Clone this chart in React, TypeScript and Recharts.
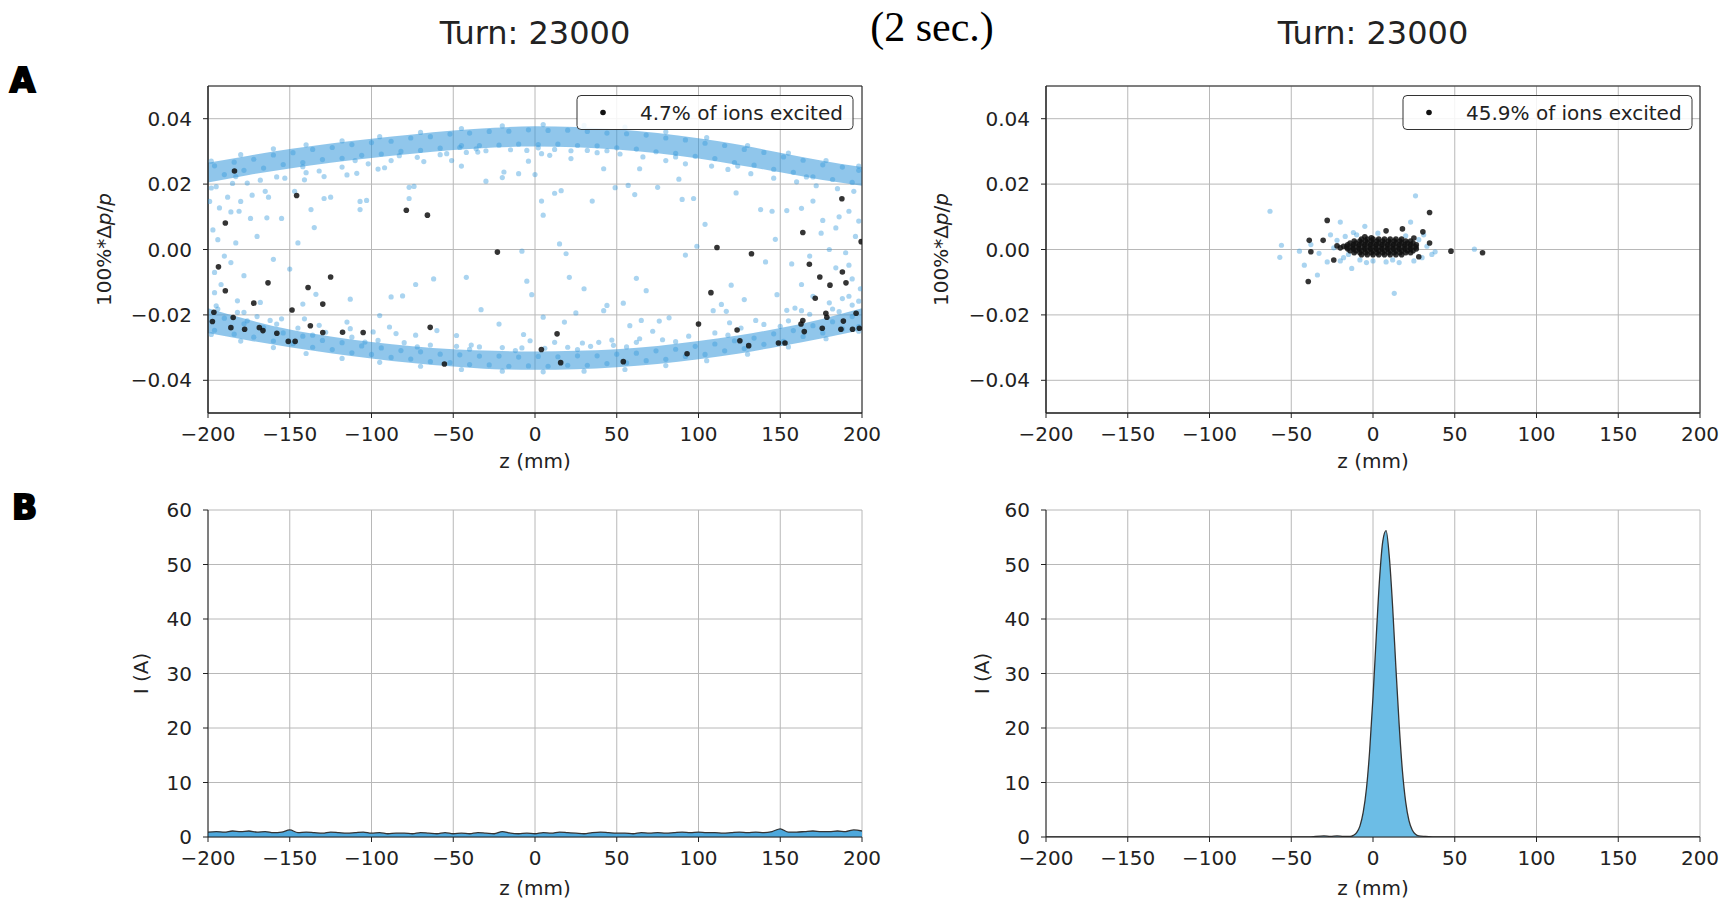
import React from 'react';
import {
  ComposedChart,
  Scatter,
  Area,
  XAxis,
  YAxis,
  CartesianGrid,
  ReferenceArea,
} from 'recharts';

// axis ticks
const zTicks = [-200, -150, -100, -50, 0, 50, 100, 150, 200];
const dpTicks = [-0.04, -0.02, 0, 0.02, 0.04];
const currentTicks = [0, 10, 20, 30, 40, 50, 60];

const titles = ['Turn: 23000', 'Turn: 23000'];
const legendLabels = ['4.7% of ions excited', '45.9% of ions excited'];

// dense core of the bucket (upper / lower bands), sampled along z
const bandZ = [-200, -175, -150, -125, -100, -75, -50, -25, 0, 25, 50, 75, 100, 125, 150, 175, 200];
const upperLo = [0.0205, 0.0228, 0.0248, 0.0265, 0.028, 0.0293, 0.0304, 0.0312, 0.0315, 0.0313, 0.0306, 0.0294, 0.0278, 0.0258, 0.0236, 0.0213, 0.0195];
const upperHi = [0.0265, 0.0287, 0.0307, 0.0324, 0.0339, 0.0352, 0.0364, 0.0372, 0.0377, 0.0375, 0.0368, 0.0356, 0.034, 0.032, 0.0296, 0.0272, 0.0252];
const lowerLo = [-0.0255, -0.0278, -0.0299, -0.0317, -0.0333, -0.0347, -0.0358, -0.0366, -0.0368, -0.0366, -0.036, -0.035, -0.0336, -0.0318, -0.0296, -0.0272, -0.0246];
const lowerHi = [-0.018, -0.0215, -0.0245, -0.0266, -0.0283, -0.0296, -0.0305, -0.031, -0.0312, -0.031, -0.0305, -0.0295, -0.028, -0.0262, -0.024, -0.0213, -0.018];

// ions inside the bands (adds the speckle on top of the core)
const bandIons: [number, number][] = [
  [-196, 0.0256], [-184, 0.0267], [-172, 0.0276], [-160, 0.0289], [-148, 0.0296], [-136, 0.0306], [-124, 0.0312],
  [-112, 0.0321], [-100, 0.0327], [-88, 0.0331], [-76, 0.0341], [-64, 0.0345], [-52, 0.0353], [-40, 0.0356],
  [-28, 0.0361], [-16, 0.0362], [-4, 0.0366], [8, 0.0364], [20, 0.0365], [32, 0.0361], [44, 0.0356], [56, 0.0354],
  [68, 0.035], [80, 0.0341], [92, 0.0335], [104, 0.0325], [116, 0.0318], [128, 0.0306], [140, 0.0297], [152, 0.0283],
  [164, 0.0273], [176, 0.0259], [188, 0.0252], [198, 0.0242],
  [-190, 0.0229], [-178, 0.0242], [-166, 0.0249], [-154, 0.026], [-142, 0.0266], [-130, 0.0275], [-118, 0.0279],
  [-106, 0.0288], [-94, 0.0292], [-82, 0.03], [-70, 0.0303], [-58, 0.031], [-46, 0.0312], [-34, 0.0318], [-22, 0.0319],
  [-10, 0.0322], [2, 0.0321], [14, 0.0322], [26, 0.0318], [38, 0.0317], [50, 0.0311], [62, 0.0307], [74, 0.0299],
  [86, 0.0294], [98, 0.0285], [110, 0.0278], [122, 0.0266], [134, 0.0258], [146, 0.0245], [158, 0.0236], [170, 0.0222],
  [182, 0.0214], [194, 0.0205],
  [-196, -0.0247], [-184, -0.0259], [-172, -0.0268], [-160, -0.028], [-148, -0.0288], [-136, -0.0299], [-124, -0.0306],
  [-112, -0.0316], [-100, -0.0321], [-88, -0.033], [-76, -0.0335], [-64, -0.0343], [-52, -0.0346], [-40, -0.0352],
  [-28, -0.0353], [-16, -0.0357], [-4, -0.0356], [8, -0.0357], [20, -0.0354], [32, -0.0354], [44, -0.0349],
  [56, -0.0347], [68, -0.034], [80, -0.0336], [92, -0.0327], [104, -0.0321], [116, -0.031], [128, -0.0303],
  [140, -0.029], [152, -0.0281], [164, -0.0266], [176, -0.0255], [188, -0.0243], [198, -0.0236],
  [-190, -0.021], [-178, -0.0227], [-166, -0.0239], [-154, -0.0255], [-142, -0.0265], [-130, -0.0278], [-118, -0.0285],
  [-106, -0.0295], [-94, -0.0301], [-82, -0.0309], [-70, -0.0313], [-58, -0.032], [-46, -0.0322], [-34, -0.0326],
  [-22, -0.0326], [-10, -0.0329], [2, -0.0327], [14, -0.0328], [26, -0.0325], [38, -0.0325], [50, -0.032],
  [62, -0.0317], [74, -0.031], [86, -0.0305], [98, -0.0296], [110, -0.0289], [122, -0.0279], [134, -0.0271],
  [146, -0.0258], [158, -0.0248], [170, -0.0233], [182, -0.0221], [194, -0.0205],
];

// ions outside the dense core, left panel [z mm, 100%*dp/p]
const leftIons: [number, number][] = [
  [-198, 0.0188], [-199, 0.0147], [-188, 0.016], [-193, 0.0127], [-180, 0.0147], [-176, 0.0203], [-173, 0.0166],
  [-165, 0.0178], [-163, 0.016], [-186, 0.0115], [-181, 0.0117], [-174, 0.0095], [-164, 0.0097], [-155, 0.0095],
  [-147, 0.0178], [-137, 0.0122], [-135, 0.0067], [-129, 0.0156], [-125, 0.016], [-107, 0.0147], [-107, 0.0122],
  [-115, 0.0228], [-109, 0.0233], [-96, 0.0246], [-92, 0.025], [-77, 0.019], [-77, 0.0156], [-68, 0.0269],
  [-141, 0.0213], [-153, 0.0218], [-129, 0.0223],
  [-196, -0.0132], [-192, -0.0107], [-182, -0.0157], [-168, -0.0162], [-142, -0.0167], [-134, -0.0137], [-113, -0.0152],
  [-81, -0.0142], [-73, -0.0107], [-95, -0.0202], [-89, -0.0237], [-85, -0.0257], [-73, -0.0262], [-194, -0.0182],
  [-178, -0.0192], [-162, -0.0217], [-155, -0.0212], [-141, -0.0212], [-132, -0.0232], [-115, -0.0222], [-113, -0.0242],
  [-99, -0.0252],
  [-54, 0.0293], [-51, 0.0272], [-45, 0.0318], [-35, 0.0298], [-19, 0.0237], [-10, 0.0232], [0, 0.0229], [-30, 0.0209],
  [-4, 0.027], [4, 0.0293], [9, 0.0288], [12, 0.0172], [16, 0.018], [4, 0.0148], [35, 0.0148], [42, 0.0247], [22, 0.0278],
  [32, 0.0303], [49, 0.0189], [57, 0.0196], [61, 0.0168], [64, 0.0247], [15, 0.0017], [19, -0.0013], [-8, -0.0005],
  [-42, -0.0085], [-5, -0.0097], [-2, -0.0138], [21, -0.0085], [-33, -0.0184], [-22, -0.0228], [5, -0.0207], [18, -0.0222],
  [25, -0.0194], [42, -0.0187], [44, -0.0171], [54, -0.0164], [68, -0.0126], [58, -0.0233], [-48, -0.0263], [-39, -0.0292],
  [-7, -0.026], [-3, -0.0279], [12, -0.0284], [29, -0.0286], [39, -0.0284], [47, -0.0277], [65, -0.0217], [64, -0.0273],
  [-60, -0.0248],
  [90, 0.0153], [97, 0.0156], [123, 0.0173], [138, 0.0122], [145, 0.0117], [154, 0.0119], [163, 0.0126], [170, 0.0148],
  [176, 0.0089], [184, 0.0066], [192, 0.0117], [198, 0.0087], [104, 0.0077], [99, 0.001], [92, -0.0017], [147, 0.0031],
  [157, -0.0044], [163, -0.0107], [170, -0.0143], [184, -0.0056], [192, -0.0048], [141, -0.0038], [120, -0.0109],
  [114, -0.0168], [109, -0.0187], [117, -0.0189], [128, -0.0153], [148, -0.0138], [154, -0.0186], [76, -0.0219],
  [82, -0.0209], [72, -0.025], [119, -0.0224], [135, -0.0217], [163, -0.0187], [180, -0.0163], [192, -0.0143],
  [198, -0.0158], [159, -0.0179],
  [-103, 0.015], [-74, 0.0193], [-20, 0.022], [-45, 0.0255], [5, 0.0105], [-62, -0.009], [-88, -0.0145], [62, -0.0088],
  [75, 0.019], [88, 0.0215], [30, -0.012],
  [-197, 0.006], [-194, 0.003], [-190, -0.002], [-196, -0.007], [-186, -0.004], [-183, 0.002], [-178, -0.008],
  [-170, 0.004], [-160, -0.003], [-150, -0.006], [-145, 0.002],
  [196, 0.004], [190, -0.001], [186, 0.01], [194, -0.009], [180, 0.0], [175, 0.005], [168, -0.002], [199, -0.012], [188, -0.015],
  // fringe of the upper band
  [-195, 0.0192], [-185, 0.0202], [-168, 0.0212], [-158, 0.0222], [-140, 0.0235], [-132, 0.024], [-118, 0.0252],
  [-102, 0.0262], [-88, 0.0272], [-72, 0.0282], [-58, 0.029], [-42, 0.0297], [-30, 0.0302], [-15, 0.0305], [-5, 0.0303],
  [12, 0.0306], [22, 0.0302], [38, 0.0296], [52, 0.0292], [66, 0.0283], [80, 0.0272], [92, 0.0262], [108, 0.0255],
  [118, 0.0245], [132, 0.0232], [146, 0.0218], [160, 0.0207], [172, 0.0195], [185, 0.0186], [195, 0.0178],
  [-183, 0.0223], [-142, 0.0253], [-110, 0.0272], [-83, 0.0287], [-36, 0.0308], [2, 0.0311], [44, 0.0302], [86, 0.0283],
  [124, 0.0255], [166, 0.0222], [-198, 0.027], [-180, 0.029], [-160, 0.0308], [-140, 0.032], [-118, 0.0332],
  [-95, 0.0345], [-70, 0.0358], [-45, 0.037], [-20, 0.0378], [5, 0.0382], [30, 0.038], [55, 0.0374], [80, 0.036],
  [105, 0.0342], [130, 0.0318], [155, 0.0295], [178, 0.0272], [198, 0.0255],
  // fringe of the lower band
  [-195, -0.0172], [-182, -0.0192], [-170, -0.0205], [-158, -0.0228], [-145, -0.024], [-128, -0.0253], [-112, -0.0268],
  [-96, -0.0278], [-80, -0.0285], [-64, -0.0292], [-48, -0.0296], [-34, -0.0298], [-20, -0.03], [-8, -0.0301], [6, -0.0302],
  [20, -0.0299], [34, -0.0296], [48, -0.0293], [62, -0.0284], [78, -0.0276], [94, -0.0265], [110, -0.0255], [126, -0.024],
  [140, -0.0229], [155, -0.0218], [168, -0.0198], [182, -0.0182], [194, -0.017],
  [-176, -0.0218], [-136, -0.0262], [-104, -0.0283], [-72, -0.0298], [-40, -0.0305], [-12, -0.0309], [26, -0.0306],
  [56, -0.0298], [86, -0.0282], [118, -0.0262], [150, -0.0235], [186, -0.019],
  [-198, -0.026], [-180, -0.028], [-160, -0.03], [-140, -0.0318], [-118, -0.0333], [-95, -0.0345], [-70, -0.0357],
  [-45, -0.0367], [-20, -0.0372], [5, -0.0374], [30, -0.0372], [55, -0.0367], [80, -0.0355], [105, -0.034], [130, -0.032],
  [155, -0.0298], [178, -0.0273], [198, -0.025],
];

// excited ions, left panel
const leftExcited: [number, number][] = [
  [-183.8, 0.024], [-145.8, 0.0165], [-189.4, 0.0081], [-78.7, 0.012], [-65.8, 0.0105], [-23, -0.0008], [-193.6, -0.0053],
  [-189.4, -0.0126], [-163.3, -0.0102], [-138.8, -0.0116], [-125, -0.0084], [-129.8, -0.0167], [-172, -0.0164],
  [-148.6, -0.0185], [-196.4, -0.0192], [-197.3, -0.022], [-184.6, -0.0208], [-186, -0.0239], [-177.6, -0.0244],
  [-168.6, -0.0239], [-166.4, -0.0248], [-157.9, -0.0256], [-150.9, -0.0281], [-146.7, -0.0281], [-137.4, -0.0233],
  [-129.8, -0.0254], [-117.7, -0.0253], [-105.1, -0.0254], [-64.1, -0.0238], [-55.4, -0.035], [13.5, -0.0258],
  [3.9, -0.0306], [15.7, -0.0346], [54, -0.0343], [93, -0.0319], [100, -0.0228], [107.6, -0.0132], [111.3, 0.0006],
  [132.4, -0.0013], [123.6, -0.0246], [125.3, -0.0279], [130.7, -0.0294], [148.9, -0.0286], [152.9, -0.0286],
  [163.8, 0.0052], [167.8, -0.0045], [174.2, -0.0084], [171.4, -0.0149], [180.4, -0.0109], [187.7, 0.0155],
  [188, -0.0069], [190.2, -0.0102], [199.5, 0.0024], [162.7, -0.0228], [163.8, -0.0217], [164.7, -0.0251],
  [175.7, -0.0241], [177.9, -0.0195], [178.5, -0.0207], [187.1, -0.0244], [188.6, -0.0219], [194.2, -0.0244],
  [196.4, -0.0195], [198.4, -0.0241],
];

// right panel, ions not excited
const rightIons: [number, number][] = [
  [-63, 0.0117], [26, 0.0164], [13, -0.0134], [-56, 0.0013], [-57, -0.0024], [-42, -0.0048], [-34, -0.0078], [-13, -0.0058],
  [-20, 0.0084], [23, 0.0084], [-5, 0.0071], [62, 0.0001], [38, -0.0007], [-26, 0.0045], [-33, -0.0012], [-28, -0.0038],
  [-20, -0.0035], [-17, 0.004], [-10, 0.0045], [-8, -0.0032], [0, -0.0035], [12, -0.0032], [20, 0.0042], [28, 0.003],
  [30, -0.0025], [33, 0.001], [36, -0.0015], [-38, 0.0015], [-45, -0.0005], [3, 0.005], [16, -0.004], [-24, 0.0005],
  [-15, -0.0015], [25, -0.0035], [-4, -0.004], [-22, 0.0028], [-12, 0.0052], [31, 0.0045], [-18, -0.0025], [8, -0.0038],
];

// right panel, excited ions: scattered ones, then the dense core
const rightExcited: [number, number][] = [
  [-28, 0.0089], [-39, 0.0028], [-30.5, 0.0028], [-38, -0.0007], [-22, 0.0011], [-24, -0.0032], [-39.6, -0.0098],
  [34.6, 0.0113], [30.5, 0.0054], [18, 0.0063], [8, 0.0057], [34.6, 0.002], [47.7, -0.0005], [67, -0.001], [-5, 0.0039],
  [-1, 0.0036], [25, 0.0035], [-18, 0.001], [-20, 0.0005], [28, -0.0022],
  [-7, 0.0032], [-3.5, 0.0032], [0, 0.0032], [3.5, 0.0032], [7, 0.0032], [10.5, 0.0032], [14, 0.0032], [17.5, 0.0032],
  [-11.5, 0.0026], [-8, 0.0026], [-4.5, 0.0026], [-1, 0.0026], [2.5, 0.0026], [6, 0.0026], [9.5, 0.0026], [13, 0.0026],
  [16.5, 0.0026], [20, 0.0026], [23, 0.0026],
  [-14, 0.002], [-10.5, 0.002], [-7, 0.002], [-3.5, 0.002], [0, 0.002], [3.5, 0.002], [7, 0.002], [10.5, 0.002],
  [14, 0.002], [17.5, 0.002], [21, 0.002], [24.5, 0.002],
  [-15.5, 0.0014], [-12, 0.0014], [-8.5, 0.0014], [-5, 0.0014], [-1.5, 0.0014], [2, 0.0014], [5.5, 0.0014], [9, 0.0014],
  [12.5, 0.0014], [16, 0.0014], [19.5, 0.0014], [23, 0.0014], [26.5, 0.0014],
  [-16, 0.0008], [-12.5, 0.0008], [-9, 0.0008], [-5.5, 0.0008], [-2, 0.0008], [1.5, 0.0008], [5, 0.0008], [8.5, 0.0008],
  [12, 0.0008], [15.5, 0.0008], [19, 0.0008], [22.5, 0.0008], [26, 0.0008],
  [-15.5, 0.0002], [-12, 0.0002], [-8.5, 0.0002], [-5, 0.0002], [-1.5, 0.0002], [2, 0.0002], [5.5, 0.0002], [9, 0.0002],
  [12.5, 0.0002], [16, 0.0002], [19.5, 0.0002], [23, 0.0002], [26.5, 0.0002],
  [-14, -0.0004], [-10.5, -0.0004], [-7, -0.0004], [-3.5, -0.0004], [0, -0.0004], [3.5, -0.0004], [7, -0.0004],
  [10.5, -0.0004], [14, -0.0004], [17.5, -0.0004], [21, -0.0004], [24.5, -0.0004],
  [-11.5, -0.001], [-8, -0.001], [-4.5, -0.001], [-1, -0.001], [2.5, -0.001], [6, -0.001], [9.5, -0.001], [13, -0.001],
  [16.5, -0.001], [20, -0.001], [23, -0.001],
  [-7, -0.0016], [-3.5, -0.0016], [0, -0.0016], [3.5, -0.0016], [7, -0.0016], [10.5, -0.0016], [14, -0.0016], [17.5, -0.0016],
];

// line current profiles [z mm, I A]
const currentLeft: [number, number][] = [
  [-200, 0.9], [-195, 1.0], [-190, 0.9], [-185, 1.1], [-180, 1.0], [-175, 1.1], [-170, 0.9], [-165, 1.0], [-160, 0.8],
  [-155, 0.9], [-150, 1.3], [-145, 0.8], [-140, 0.9], [-135, 0.8], [-130, 0.7], [-125, 0.9], [-120, 0.8], [-115, 0.7],
  [-110, 0.8], [-105, 0.9], [-100, 0.7], [-95, 0.8], [-90, 0.6], [-85, 0.7], [-80, 0.7], [-75, 0.6], [-70, 0.8],
  [-65, 0.7], [-60, 0.6], [-55, 0.8], [-50, 0.6], [-45, 0.7], [-40, 0.6], [-35, 0.8], [-30, 0.7], [-25, 0.6], [-20, 1.0],
  [-15, 0.7], [-10, 0.6], [-5, 0.7], [0, 0.6], [5, 0.8], [10, 0.7], [15, 0.9], [20, 0.8], [25, 0.7], [30, 0.6], [35, 0.8],
  [40, 0.9], [45, 0.8], [50, 0.7], [55, 0.7], [60, 0.6], [65, 0.8], [70, 0.7], [75, 0.8], [80, 0.7], [85, 0.8], [90, 0.9],
  [95, 0.8], [100, 0.9], [105, 0.8], [110, 0.8], [115, 0.7], [120, 0.8], [125, 0.9], [130, 0.8], [135, 0.9], [140, 0.8],
  [145, 1.0], [150, 1.5], [155, 0.9], [160, 0.9], [165, 1.0], [170, 1.1], [175, 1.0], [180, 1.0], [185, 1.1], [190, 1.0],
  [195, 1.3], [200, 1.1],
];

const currentRight: [number, number][] = [
  [-200, 0], [-100, 0], [-40, 0], [-30, 0.2], [-26, 0.1], [-22, 0.2], [-18, 0.1], [-14, 0.1], [-12, 0.3], [-10, 0.8],
  [-8, 2.0], [-6, 4.5], [-4, 8.9], [-2, 16.0], [0, 25.7], [2, 36.8], [4, 47.3], [6, 54.3], [8, 56.2], [10, 51.3],
  [12, 42.3], [14, 31.1], [16, 20.6], [18, 12.1], [20, 6.4], [22, 3.0], [24, 1.3], [26, 0.5], [28, 0.2], [32, 0.1],
  [40, 0], [100, 0], [200, 0],
];

const FONT = 'DejaVu Sans, Verdana, sans-serif';
const PLOT_W = 654;
const PLOT_H = 327;
const Y_W = 90;
const TOP = 20;
const RIGHT = 30;
const X_H = 45;
const CHART_W = Y_W + PLOT_W + RIGHT;
const CHART_H = TOP + PLOT_H + X_H;

const tickStyle = { fontFamily: FONT, fontSize: 20, fill: '#222' };

const minus = (v: number) => (v < 0 ? '\u2212' : '');
const fmtZ = (v: number) => `${minus(v)}${Math.abs(v)}`;
const fmtDp = (v: number) => `${minus(v)}${Math.abs(v).toFixed(2)}`;

const toPoints = (rows: [number, number][]) => rows.map(([z, v]) => ({ z, v }));

const blueDot = (p: any) => (
  <circle cx={p.cx} cy={p.cy} r={2.6} fill="#3498db" fillOpacity={0.42} />
);
const blackDot = (p: any) => (
  <circle cx={p.cx} cy={p.cy} r={2.8} fill="#111" fillOpacity={0.85} />
);

const bandTable = bandZ.map((z, i) => ({
  z,
  up: [upperLo[i], upperHi[i]],
  low: [lowerLo[i], lowerHi[i]],
}));

function PhaseSpace({ ions, excited, band }: { ions: [number, number][]; excited: [number, number][]; band: boolean }) {
  return (
    <ComposedChart
      width={CHART_W}
      height={CHART_H}
      data={band ? bandTable : []}
      margin={{ top: TOP, right: RIGHT, bottom: 0, left: 0 }}
    >
      <CartesianGrid stroke="#b8b8b8" strokeWidth={1} />
      <XAxis
        dataKey="z"
        type="number"
        domain={[-200, 200]}
        ticks={zTicks}
        allowDataOverflow
        height={X_H}
        tickSize={5}
        tickMargin={9}
        tickFormatter={fmtZ}
        tick={tickStyle}
        stroke="#222"
        interval={0}
      />
      <YAxis
        type="number"
        domain={[-0.05, 0.05]}
        ticks={dpTicks}
        allowDataOverflow
        width={Y_W}
        tickSize={5}
        tickMargin={11}
        tickFormatter={fmtDp}
        tick={tickStyle}
        stroke="#222"
        interval={0}
      />
      {band && (
        <Area dataKey="up" type="monotone" stroke="none" fill="#3498db" fillOpacity={0.55} isAnimationActive={false} />
      )}
      {band && (
        <Area dataKey="low" type="monotone" stroke="none" fill="#3498db" fillOpacity={0.55} isAnimationActive={false} />
      )}
      {band && <Scatter data={toPoints(bandIons)} dataKey="v" shape={blueDot} isAnimationActive={false} />}
      <Scatter data={toPoints(ions)} dataKey="v" shape={blueDot} isAnimationActive={false} />
      <Scatter data={toPoints(excited)} dataKey="v" shape={blackDot} isAnimationActive={false} />
      <ReferenceArea x1={-200} x2={200} y1={-0.05} y2={0.05} fill="none" stroke="#222" strokeWidth={1} ifOverflow="visible" />
    </ComposedChart>
  );
}

function CurrentProfile({ rows, fill }: { rows: [number, number][]; fill: string }) {
  return (
    <ComposedChart
      width={CHART_W}
      height={CHART_H}
      data={rows.map(([z, i]) => ({ z, i }))}
      margin={{ top: TOP, right: RIGHT, bottom: 0, left: 0 }}
    >
      <CartesianGrid stroke="#b8b8b8" strokeWidth={1} />
      <XAxis
        dataKey="z"
        type="number"
        domain={[-200, 200]}
        ticks={zTicks}
        allowDataOverflow
        height={X_H}
        tickSize={5}
        tickMargin={9}
        tickFormatter={fmtZ}
        tick={tickStyle}
        stroke="#222"
        interval={0}
      />
      <YAxis
        type="number"
        domain={[0, 60]}
        ticks={currentTicks}
        allowDataOverflow
        width={Y_W}
        tickSize={5}
        tickMargin={11}
        tick={tickStyle}
        stroke="#222"
        interval={0}
      />
      <Area
        dataKey="i"
        type="monotone"
        stroke="#333"
        strokeWidth={1.3}
        fill={fill}
        fillOpacity={1}
        dot={false}
        isAnimationActive={false}
      />
    </ComposedChart>
  );
}

// plot-area origins on the page
const colX = [208, 1046];
const rowY = [86, 510];

function LegendBox({ x, width, label }: { x: number; width: number; label: string }) {
  return (
    <g>
      <rect x={x} y={95.5} width={width} height={34} rx={4} fill="#fff" fillOpacity={0.85} stroke="#333" strokeWidth={1} />
      <circle cx={x + 26} cy={112.5} r={2.8} fill="#111" />
      <text x={x + 63} y={119.5} fontFamily={FONT} fontSize={20} fill="#222">{label}</text>
    </g>
  );
}

function DpLabel({ x }: { x: number }) {
  const cy = rowY[0] + PLOT_H / 2;
  return (
    <text x={x} y={cy} transform={`rotate(-90 ${x} ${cy})`} textAnchor="middle" fontFamily={FONT} fontSize={20} fill="#222">
      100%*Δ<tspan fontStyle="italic">p</tspan>/<tspan fontStyle="italic">p</tspan>
    </text>
  );
}

function CurrentLabel({ x }: { x: number }) {
  const cy = rowY[1] + PLOT_H / 2;
  return (
    <text x={x} y={cy} transform={`rotate(-90 ${x} ${cy})`} textAnchor="middle" fontFamily={FONT} fontSize={20} fill="#222">
      I (A)
    </text>
  );
}

export default function App() {
  const place = (col: number, row: number): React.CSSProperties => ({
    position: 'absolute',
    left: colX[col] - Y_W,
    top: rowY[row] - TOP,
  });

  return (
    <div style={{ position: 'relative', width: 1720, height: 902, background: '#fff', overflow: 'hidden' }}>
      <style>{'body { margin: 0; }'}</style>
      <div style={place(0, 0)}>
        <PhaseSpace ions={leftIons} excited={leftExcited} band />
      </div>
      <div style={place(1, 0)}>
        <PhaseSpace ions={rightIons} excited={rightExcited} band={false} />
      </div>
      <div style={place(0, 1)}>
        <CurrentProfile rows={currentLeft} fill="#4ea8dc" />
      </div>
      <div style={place(1, 1)}>
        <CurrentProfile rows={currentRight} fill="#6cbde6" />
      </div>

      <svg width={1720} height={902} style={{ position: 'absolute', left: 0, top: 0, pointerEvents: 'none' }}>
        <text x={colX[0] + PLOT_W / 2} y={44} textAnchor="middle" fontFamily={FONT} fontSize={32} fill="#222">{titles[0]}</text>
        <text x={colX[1] + PLOT_W / 2} y={44} textAnchor="middle" fontFamily={FONT} fontSize={32} fill="#222">{titles[1]}</text>
        <text x={932} y={41} textAnchor="middle" fontFamily="Liberation Serif, Times New Roman, serif" fontSize={42} fill="#000">(2 sec.)</text>

        <text x={22.5} y={92} textAnchor="middle" fontFamily={FONT} fontWeight="bold" fontSize={33} fill="#000" stroke="#000" strokeWidth={2}>A</text>
        <text x={24.5} y={519} textAnchor="middle" fontFamily={FONT} fontWeight="bold" fontSize={33} fill="#000" stroke="#000" strokeWidth={2}>B</text>

        <LegendBox x={577} width={276} label={legendLabels[0]} />
        <LegendBox x={1403} width={289} label={legendLabels[1]} />

        <DpLabel x={111} />
        <DpLabel x={948} />
        <CurrentLabel x={148} />
        <CurrentLabel x={989} />

        <text x={colX[0] + PLOT_W / 2} y={468} textAnchor="middle" fontFamily={FONT} fontSize={20} fill="#222">z (mm)</text>
        <text x={colX[1] + PLOT_W / 2} y={468} textAnchor="middle" fontFamily={FONT} fontSize={20} fill="#222">z (mm)</text>
        <text x={colX[0] + PLOT_W / 2} y={895} textAnchor="middle" fontFamily={FONT} fontSize={20} fill="#222">z (mm)</text>
        <text x={colX[1] + PLOT_W / 2} y={895} textAnchor="middle" fontFamily={FONT} fontSize={20} fill="#222">z (mm)</text>
      </svg>
    </div>
  );
}
